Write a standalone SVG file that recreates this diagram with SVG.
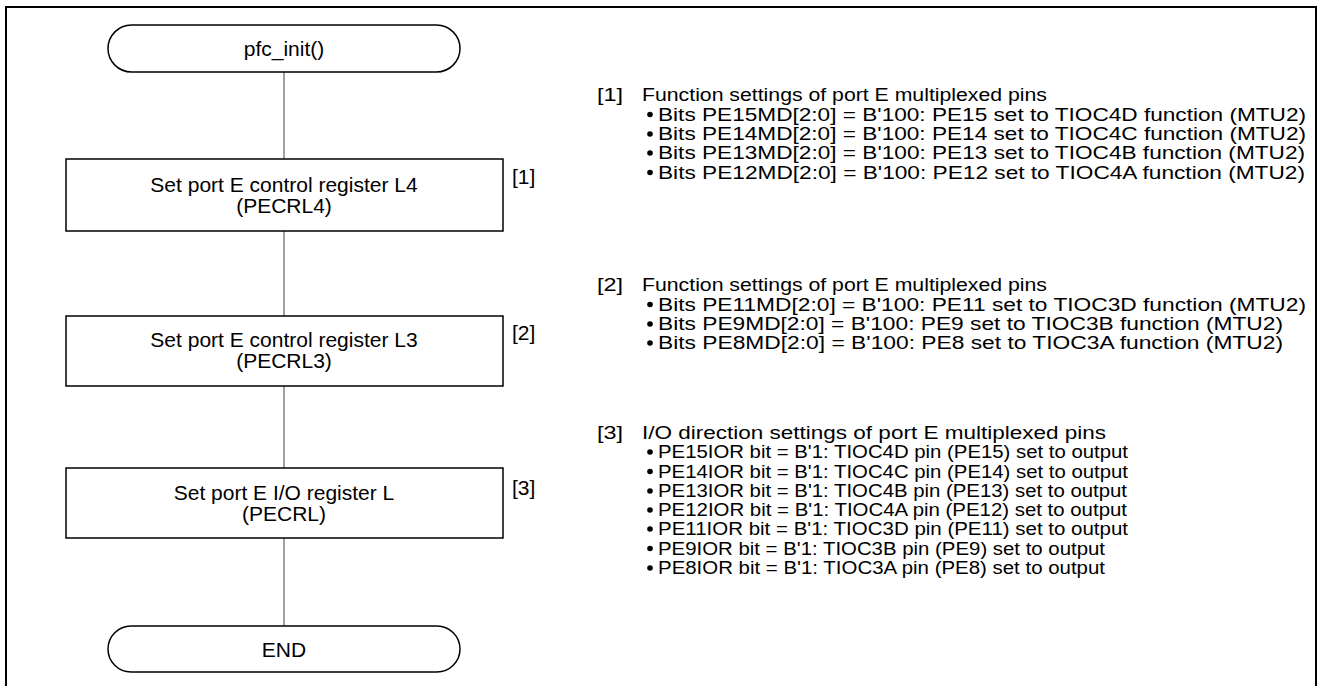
<svg xmlns="http://www.w3.org/2000/svg" width="1326" height="686" viewBox="0 0 1326 686">
  <style>
    .frame { fill: none; stroke: #000; stroke-width: 2; }
    .shape { fill: #fff; stroke: #000; stroke-width: 1.5; }
    .conn { stroke: #808080; stroke-width: 1.5; fill: none; }
    text { font-family: "Liberation Sans", Arial, sans-serif; font-size: 21px; fill: #000; }
    .c { text-anchor: middle; }
    .n { font-size: 18px; }
    .dot { fill: #000; }
  </style>
  <rect width="1326" height="686" fill="#fff"/>
  <!-- outer frame, open at the bottom -->
  <path class="frame" d="M6 690 V7 H1316 V690"/>

  <g id="connectors">
    <line class="conn" x1="284" y1="72" x2="284" y2="159"/>
    <line class="conn" x1="284" y1="231" x2="284" y2="316"/>
    <line class="conn" x1="284" y1="386" x2="284" y2="468"/>
    <line class="conn" x1="284" y1="538" x2="284" y2="626"/>
  </g>

  <g id="start">
    <rect class="shape" x="108" y="25" width="352" height="47" rx="23.5"/>
    <text class="c" x="284" y="56">pfc_init()</text>
  </g>

  <g id="step1">
    <rect class="shape" x="66" y="159" width="437" height="72"/>
    <text class="c" x="284" y="192">Set port E control register L4</text>
    <text class="c" x="284" y="213">(PECRL4)</text>
    <text x="512" y="184">[1]</text>
  </g>

  <g id="step2">
    <rect class="shape" x="66" y="316" width="437" height="70"/>
    <text class="c" x="284" y="347">Set port E control register L3</text>
    <text class="c" x="284" y="368">(PECRL3)</text>
    <text x="512" y="340">[2]</text>
  </g>

  <g id="step3">
    <rect class="shape" x="66" y="468" width="437" height="70"/>
    <text class="c" x="284" y="500">Set port E I/O register L</text>
    <text class="c" x="284" y="521">(PECRL)</text>
    <text x="512" y="495">[3]</text>
  </g>

  <g id="end">
    <rect class="shape" x="108" y="626" width="352" height="46" rx="23"/>
    <text class="c" x="284" y="657">END</text>
  </g>

  <g id="notes">
    <text class="n" x="597" y="101" textLength="26" lengthAdjust="spacingAndGlyphs">[1]</text>
    <text class="n" x="642" y="101" textLength="405" lengthAdjust="spacingAndGlyphs">Function settings of port E multiplexed pins</text>
    <circle class="dot" cx="650" cy="114.5" r="2.8"/>
    <text class="n" x="658" y="121" textLength="648" lengthAdjust="spacingAndGlyphs">Bits PE15MD[2:0] = B'100: PE15 set to TIOC4D function (MTU2)</text>
    <circle class="dot" cx="650" cy="134" r="2.8"/>
    <text class="n" x="658" y="140" textLength="648" lengthAdjust="spacingAndGlyphs">Bits PE14MD[2:0] = B'100: PE14 set to TIOC4C function (MTU2)</text>
    <circle class="dot" cx="650" cy="153" r="2.8"/>
    <text class="n" x="658" y="159" textLength="647" lengthAdjust="spacingAndGlyphs">Bits PE13MD[2:0] = B'100: PE13 set to TIOC4B function (MTU2)</text>
    <circle class="dot" cx="650" cy="172.5" r="2.8"/>
    <text class="n" x="658" y="179" textLength="647" lengthAdjust="spacingAndGlyphs">Bits PE12MD[2:0] = B'100: PE12 set to TIOC4A function (MTU2)</text>

    <text class="n" x="597" y="291" textLength="26" lengthAdjust="spacingAndGlyphs">[2]</text>
    <text class="n" x="642" y="291" textLength="405" lengthAdjust="spacingAndGlyphs">Function settings of port E multiplexed pins</text>
    <circle class="dot" cx="650" cy="304.5" r="2.8"/>
    <text class="n" x="658" y="311" textLength="648" lengthAdjust="spacingAndGlyphs">Bits PE11MD[2:0] = B'100: PE11 set to TIOC3D function (MTU2)</text>
    <circle class="dot" cx="650" cy="324" r="2.8"/>
    <text class="n" x="658" y="330" textLength="625" lengthAdjust="spacingAndGlyphs">Bits PE9MD[2:0] = B'100: PE9 set to TIOC3B function (MTU2)</text>
    <circle class="dot" cx="650" cy="343" r="2.8"/>
    <text class="n" x="658" y="349" textLength="625" lengthAdjust="spacingAndGlyphs">Bits PE8MD[2:0] = B'100: PE8 set to TIOC3A function (MTU2)</text>

    <text class="n" x="597" y="439" textLength="26" lengthAdjust="spacingAndGlyphs">[3]</text>
    <text class="n" x="642" y="439" textLength="464" lengthAdjust="spacingAndGlyphs">I/O direction settings of port E multiplexed pins</text>
    <circle class="dot" cx="650" cy="452" r="2.8"/>
    <text class="n" x="658" y="458" textLength="470" lengthAdjust="spacingAndGlyphs">PE15IOR bit = B'1: TIOC4D pin (PE15) set to output</text>
    <circle class="dot" cx="650" cy="471.5" r="2.8"/>
    <text class="n" x="658" y="478" textLength="470" lengthAdjust="spacingAndGlyphs">PE14IOR bit = B'1: TIOC4C pin (PE14) set to output</text>
    <circle class="dot" cx="650" cy="491" r="2.8"/>
    <text class="n" x="658" y="497" textLength="469" lengthAdjust="spacingAndGlyphs">PE13IOR bit = B'1: TIOC4B pin (PE13) set to output</text>
    <circle class="dot" cx="650" cy="510" r="2.8"/>
    <text class="n" x="658" y="516" textLength="469" lengthAdjust="spacingAndGlyphs">PE12IOR bit = B'1: TIOC4A pin (PE12) set to output</text>
    <circle class="dot" cx="650" cy="529" r="2.8"/>
    <text class="n" x="658" y="535" textLength="470" lengthAdjust="spacingAndGlyphs">PE11IOR bit = B'1: TIOC3D pin (PE11) set to output</text>
    <circle class="dot" cx="650" cy="548.5" r="2.8"/>
    <text class="n" x="658" y="555" textLength="447" lengthAdjust="spacingAndGlyphs">PE9IOR bit = B'1: TIOC3B pin (PE9) set to output</text>
    <circle class="dot" cx="650" cy="568" r="2.8"/>
    <text class="n" x="658" y="574" textLength="447" lengthAdjust="spacingAndGlyphs">PE8IOR bit = B'1: TIOC3A pin (PE8) set to output</text>
  </g>
</svg>
